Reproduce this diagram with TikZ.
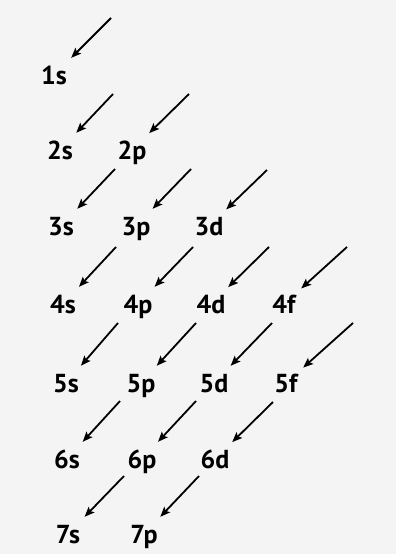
\documentclass[tikz,border=0pt]{standalone}
\usepackage{fontspec}
\setmainfont{PT Sans}
\usetikzlibrary{arrows.meta}
\begin{document}
\begin{tikzpicture}[x=1pt,y=-1pt,
  lbl/.style={font=\fontsize{26}{26}\selectfont\bfseries, text height=18pt, text depth=0pt,
    minimum width=34pt, minimum height=34pt, inner sep=0pt, anchor=center},
  arr/.style={line width=1.8pt, -{Stealth[length=10pt,width=8pt,inset=2pt]}}]
\fill[gray!9] (0,0) rectangle (396,554);
\useasboundingbox (0,0) rectangle (396,554);
% labels
\node[lbl] (n1s) at (54,75) {1s};
\node[lbl] (n2s) at (60,150) {2s};
\node[lbl] (n2p) at (132,150) {2p};
\node[lbl] (n3s) at (61,226) {3s};
\node[lbl] (n3p) at (136,226) {3p};
\node[lbl] (n3d) at (209,226) {3d};
\node[lbl] (n4s) at (63,304) {4s};
\node[lbl] (n4p) at (138,304) {4p};
\node[lbl] (n4d) at (211,304) {4d};
\node[lbl] (n4f) at (284,304) {4f};
\node[lbl] (n5s) at (66,383) {5s};
\node[lbl] (n5p) at (141,383) {5p};
\node[lbl] (n5d) at (214,383) {5d};
\node[lbl] (n5f) at (286,383) {5f};
\node[lbl] (n6s) at (67,459) {6s};
\node[lbl] (n6p) at (142,459) {6p};
\node[lbl] (n6d) at (215,459) {6d};
\node[lbl] (n7s) at (68,534) {7s};
\node[lbl] (n7p) at (144,534) {7p};
% arrow starts
\coordinate (s1s) at (111,18);
\coordinate (s2s) at (113,94);
\coordinate (s2p) at (189,94);
\coordinate (s3s) at (115,169);
\coordinate (s3p) at (191,169);
\coordinate (s3d) at (267,170);
\coordinate (s4s) at (116,247);
\coordinate (s4p) at (193,247);
\coordinate (s4d) at (269,247);
\coordinate (s4f) at (347,247);
\coordinate (s5s) at (118,323);
\coordinate (s5p) at (196,323);
\coordinate (s5d) at (272,323);
\coordinate (s5f) at (353,323);
\coordinate (s6s) at (120,401);
\coordinate (s6p) at (196,401);
\coordinate (s6d) at (273,402);
\coordinate (s7s) at (124,476);
\coordinate (s7p) at (199,476);
\foreach \k in {1s,2s,2p,3s,3p,3d,4s,4p,4d,4f,5s,5p,5d,5f,6s,6p,6d,7s,7p}
  \draw[arr] (s\k) -- (n\k);
\end{tikzpicture}
\end{document}
